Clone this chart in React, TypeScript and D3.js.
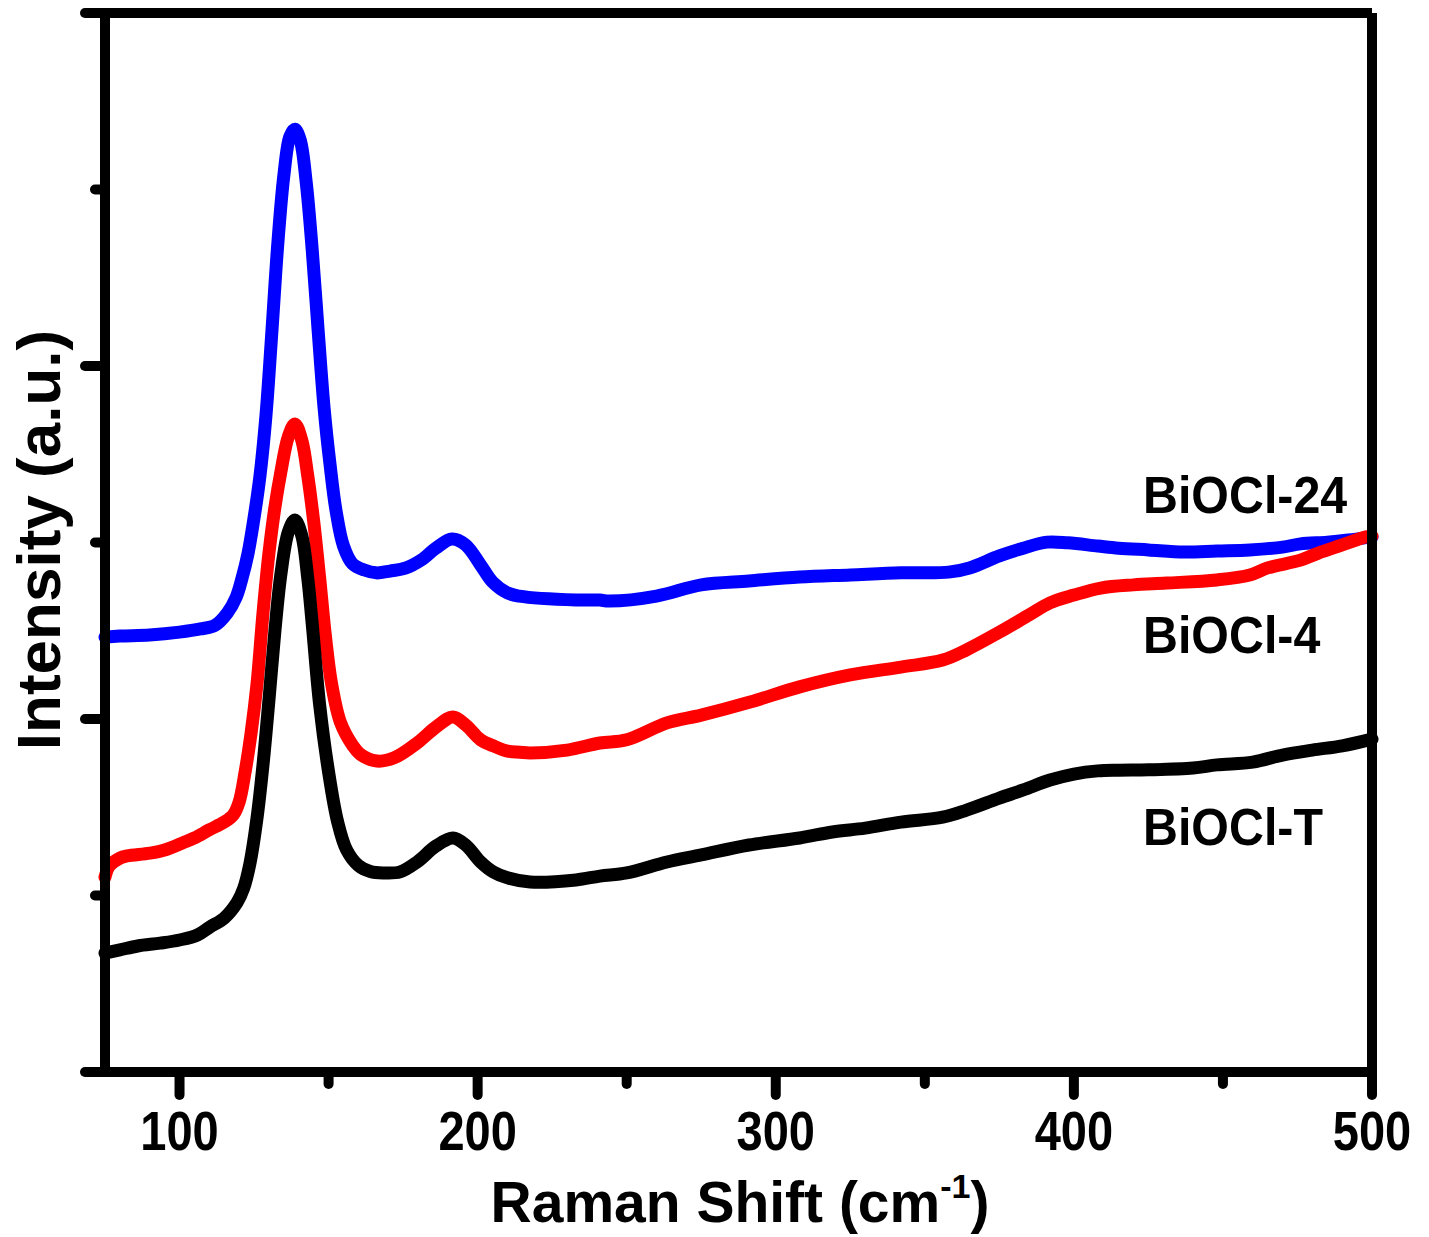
import React from "react";
import * as d3 from "d3";

const xMajorTicks = [100, 200, 300, 400, 500];
const xMinorTicks = [150, 250, 350, 450];
const yMajorTicks = [0, 1000, 2000, 3000];
const yMinorTicks = [500, 1500, 2500];

const seriesNames = ["BiOCl-24", "BiOCl-4", "BiOCl-T"];
const seriesColors = ["#0000ff", "#ff0000", "#000000"];

const blueX = [75, 80, 90, 100, 107, 112, 116, 119, 121, 123, 125, 127, 129, 131, 133, 135, 137, 138.7, 140.5, 142.5, 144.5, 146.5, 148.5, 150.5, 152.5, 155, 158, 162, 166, 170.6, 176, 181, 186, 191.4, 196, 201, 205, 210, 214, 233, 241, 244, 260, 275, 291, 308, 325, 342, 358, 365, 375, 383, 391, 398, 408, 415, 425, 437, 448, 459, 470, 476, 485, 492, 500];
const blueY = [1232, 1235, 1238, 1246, 1255, 1266, 1300, 1345, 1400, 1470, 1570, 1690, 1860, 2100, 2350, 2540, 2650, 2671, 2640, 2520, 2330, 2100, 1880, 1720, 1590, 1490, 1440, 1422, 1414, 1419, 1428, 1450, 1484, 1510, 1493, 1436, 1388, 1357, 1348, 1337, 1337, 1334, 1348, 1380, 1391, 1402, 1408, 1414, 1416, 1428, 1462, 1484, 1501, 1499, 1490, 1484, 1479, 1473, 1476, 1479, 1487, 1496, 1501, 1507, 1516];

const redX = [75, 76.5, 80, 82.4, 90, 95, 101, 105, 110, 115, 118, 120, 122, 124, 126, 128, 130, 132, 134, 136.5, 138.7, 141, 143, 145, 147, 149, 151, 154, 158, 160.5, 166.2, 172, 179.7, 186, 191.7, 196, 201, 205.2, 210, 214.2, 217.6, 230, 241, 250, 263.5, 275, 291.4, 308, 325, 342, 356, 364, 375, 385, 392, 400, 409, 420, 431, 448, 459, 465, 476, 482, 490, 498, 500];
const redY = [552, 584, 606, 612, 620, 629, 649, 663, 686, 708, 728, 765, 850, 960, 1100, 1300, 1470, 1600, 1700, 1800, 1836, 1790, 1690, 1560, 1400, 1230, 1100, 990, 926, 901, 881, 890, 932, 977, 1006, 983, 941, 924, 909, 906, 904, 912, 932, 941, 989, 1011, 1048, 1091, 1125, 1147, 1167, 1196, 1246, 1295, 1329, 1351, 1371, 1380, 1385, 1394, 1408, 1428, 1450, 1470, 1493, 1516, 1518];

const blackX = [75, 80, 86, 93.5, 100, 106, 110.2, 115, 119.3, 121.5, 123.6, 126, 128, 130, 132, 134, 136.5, 138.7, 141, 143, 144.5, 147, 150, 153, 156, 160, 164, 168.3, 174, 179.7, 186, 191.7, 196, 201, 205.2, 210, 217.6, 233, 241, 250, 263.5, 275, 291, 308, 319, 330, 342, 356, 364, 375, 383, 392, 400, 408, 415, 425, 440, 448, 460, 470, 480, 490, 500];
const blackY = [337, 346, 357, 365, 374, 388, 411, 436, 480, 520, 590, 720, 870, 1054, 1250, 1410, 1530, 1564, 1520, 1400, 1270, 1040, 850, 710, 630, 585, 568, 564, 567, 595, 640, 663, 643, 595, 567, 550, 538, 544, 555, 564, 595, 615, 643, 663, 680, 691, 708, 722, 742, 776, 799, 827, 844, 853, 855, 856, 861, 870, 878, 898, 912, 924, 943];

const seriesX = [blueX, redX, blackX];
const seriesY = [blueY, redY, blackY];

const labelPos = [
  { x: 1143, y: 513 },
  { x: 1143, y: 653 },
  { x: 1143, y: 845 },
];

export default function App() {
  const x = d3.scaleLinear().domain([75, 500]).range([105, 1372]);
  const y = d3.scaleLinear().domain([0, 3000]).range([1072, 13]);
  const font = "'Liberation Sans', Arial, sans-serif";

  const line = d3
    .line<[number, number]>()
    .x((d) => x(d[0]))
    .y((d) => y(d[1]))
    .curve(d3.curveCatmullRom.alpha(0.5));

  const x0 = x(75);
  const x1 = x(500);
  const yb = y(0);
  const yt = y(3000);

  return (
    <svg
      width={1429}
      height={1237}
      style={{ position: "absolute", left: 0, top: 0, background: "#fff" }}
    >
      <rect x={0} y={0} width={1429} height={1237} fill="#fff" />
      {seriesX.map((xs, i) => (
        <path
          key={seriesNames[i]}
          d={line(xs.map((v, j) => [v, seriesY[i][j]] as [number, number])) || ""}
          fill="none"
          stroke={seriesColors[i]}
          strokeWidth={13}
          strokeLinejoin="round"
          strokeLinecap="round"
        />
      ))}
      <g stroke="#000" strokeWidth={10} strokeLinecap="round" fill="none">
        <line x1={x0} y1={yt} x2={x1} y2={yt} strokeLinecap="butt" />
        <line x1={x1} y1={yt} x2={x1} y2={yb} strokeLinecap="butt" />
        <line x1={x0} y1={yt} x2={x0} y2={yb} strokeLinecap="butt" />
        <line x1={x0} y1={yb} x2={x1} y2={yb} strokeLinecap="butt" />
        {yMajorTicks.map((t) => (
          <line key={"ym" + t} x1={x0 - 20} y1={y(t)} x2={x0} y2={y(t)} />
        ))}
        {yMinorTicks.map((t) => (
          <line key={"yn" + t} x1={x0 - 10} y1={y(t)} x2={x0} y2={y(t)} />
        ))}
        {xMajorTicks.map((t) => (
          <line key={"xm" + t} x1={x(t)} y1={yb} x2={x(t)} y2={yb + 23} />
        ))}
        {xMinorTicks.map((t) => (
          <line key={"xn" + t} x1={x(t)} y1={yb} x2={x(t)} y2={yb + 12} />
        ))}
      </g>
      {xMajorTicks.map((t) => (
        <text
          key={"xl" + t}
          transform={`translate(${x(t)},1150) scale(0.84,1)`}
          textAnchor="middle"
          fontFamily={font}
          fontWeight="bold"
          fontSize={56}
          fill="#000"
        >
          {t}
        </text>
      ))}
      <text
        x={740}
        y={1222}
        textAnchor="middle"
        fontFamily={font}
        fontWeight="bold"
        fontSize={57}
        fill="#000"
      >
        Raman Shift (cm
        <tspan fontSize={34} dy={-24}>-1</tspan>
        <tspan dy={24}>)</tspan>
      </text>
      <text
        transform="translate(60,540) rotate(-90)"
        textAnchor="middle"
        fontFamily={font}
        fontWeight="bold"
        fontSize={62}
        fill="#000"
      >
        Intensity (a.u.)
      </text>
      {seriesNames.map((n, i) => (
        <text
          key={"lab" + n}
          transform={`translate(${labelPos[i].x},${labelPos[i].y}) scale(0.93,1)`}
          fontFamily={font}
          fontWeight="bold"
          fontSize={52}
          fill="#000"
        >
          {n}
        </text>
      ))}
    </svg>
  );
}
